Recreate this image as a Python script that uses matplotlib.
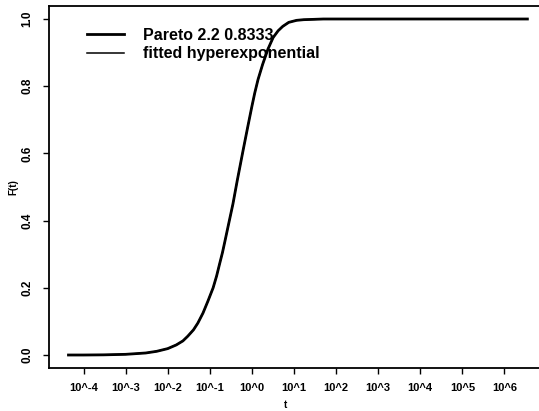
"""Pareto CDF against fitted hyperexponential, log time axis."""

import matplotlib

matplotlib.use("Agg")
import matplotlib.pyplot as plt

t = [4.4e-5, 1e-4, 3e-4, 1e-3, 3e-3, 0.0055, 0.01, 0.016, 0.023, 0.03, 0.041,
     0.052, 0.069, 0.09, 0.12, 0.145, 0.17, 0.2, 0.23, 0.28, 0.355, 0.45,
     0.62, 0.8, 1.0, 1.17, 1.4, 1.8, 2.4, 3.2, 4.2, 5.4, 7.5, 11.5, 17, 30,
     50, 100, 1e3, 1e4, 1e5, 1e6, 3.5e6]
F_pareto = [0.0, 0.0, 0.0005, 0.002, 0.006, 0.011, 0.019, 0.03, 0.042, 0.056,
            0.075, 0.095, 0.125, 0.16, 0.20, 0.235, 0.27, 0.305, 0.34, 0.39,
            0.45, 0.52, 0.61, 0.68, 0.74, 0.78, 0.82, 0.865, 0.91, 0.945,
            0.965, 0.978, 0.99, 0.996, 0.998, 0.999, 1.0, 1.0, 1.0, 1.0,
            1.0, 1.0, 1.0]
F_hyper = list(F_pareto)

xticks = [1e-4, 1e-3, 1e-2, 1e-1, 1e0, 1e1, 1e2, 1e3, 1e4, 1e5, 1e6]
xticklabels = ["10^-4", "10^-3", "10^-2", "10^-1", "10^0", "10^1", "10^2",
               "10^3", "10^4", "10^5", "10^6"]
yticks = [0.0, 0.2, 0.4, 0.6, 0.8, 1.0]

plt.rcParams["font.family"] = ["Liberation Sans", "DejaVu Sans"]
plt.rcParams["font.weight"] = "bold"

fig = plt.figure(figsize=(5.39, 4.11), dpi=100)
ax = fig.add_axes([0.0909, 0.1046, 0.920, 0.8808])

ax.plot(t, F_pareto, color="black", lw=2.0, label="Pareto 2.2 0.8333")
ax.plot(t, F_hyper, color="black", lw=1.1, label="fitted hyperexponential")

ax.set_xscale("log")
ax.set_xlim(10 ** -4.82, 10 ** 6.96)
ax.set_ylim(-0.0387, 1.0387)
ax.minorticks_off()
ax.set_xticks(xticks)
ax.set_xticklabels(xticklabels, fontsize=8, fontweight="bold")
ax.set_yticks(yticks)
ax.set_yticklabels([f"{v:.1f}" for v in yticks], fontsize=8.5,
                   fontweight="bold", rotation=90, va="center")
ax.tick_params(axis="both", direction="out", length=4, width=1, pad=7)

for s in ax.spines.values():
    s.set_linewidth(1.3)

ax.set_xlabel("t", fontsize=7, fontweight="bold")
ax.set_ylabel("F(t)", fontsize=7, fontweight="bold")
ax.xaxis.set_label_coords(0.476, -0.088)
ax.yaxis.set_label_coords(-0.0625, 0.5)

ax.legend(loc="upper left", bbox_to_anchor=(0.0766, 0.939), frameon=False,
          handlelength=2.3, handletextpad=1.2, labelspacing=0.2,
          borderpad=0, borderaxespad=0,
          prop={"weight": "bold", "size": 11.5})

fig.savefig("out.png", dpi=100)
plt.close(fig)
